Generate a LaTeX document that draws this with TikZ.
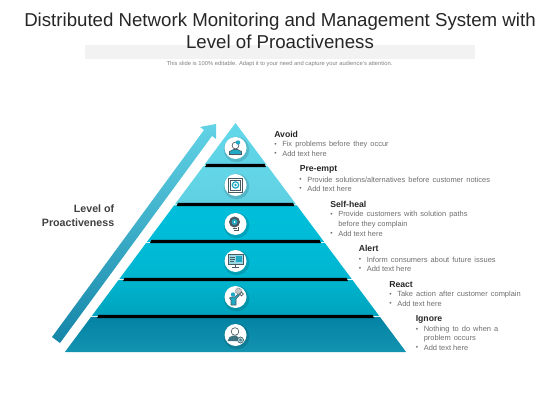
\documentclass[tikz,border=0pt]{standalone}
\usepackage{fontspec}
\setmainfont{Liberation Sans}
\usepackage{tikz}
\usetikzlibrary{positioning}
\definecolor{bodygrey}{HTML}{6E6E6E}
\definecolor{icondark}{HTML}{4A5A63}
\definecolor{iconteal}{HTML}{1FA9C4}
\definecolor{arrowlight}{HTML}{62D3E6}
\definecolor{arrowdark}{HTML}{1585A8}
\newcommand{\widewords}[1]{{\spaceskip=2.3pt\relax #1}}
\tikzset{
  headtext/.style={anchor=west,inner sep=0pt,font=\bfseries\fontsize{6.5}{8}\selectfont,text=black!85},
  itemtext/.style={anchor=west,inner sep=0pt,font=\fontsize{5.6}{7}\selectfont,text=bodygrey},
  itemdot/.style={anchor=center,inner sep=0pt,font=\fontsize{5}{6}\selectfont,text=bodygrey},
  iconcircle/.style={circle,fill=white,inner sep=0pt,minimum size=16.5pt},
  iconline/.style={draw=icondark,line width=0.5pt},
  iconfill/.style={fill=iconteal,draw=icondark,line width=0.4pt},
}
\begin{document}
\begin{tikzpicture}[x=0.75pt,y=-0.75pt]
  \useasboundingbox (0,0) rectangle (560,420);
  % Title
  \fill[black!5] (85,45) rectangle (475,59.5);
  \node[font=\fontsize{14}{16.5}\selectfont,align=center,text=black!85] (title) at (280,31) {Distributed Network Monitoring and Management System with\\Level of Proactiveness};
  \node[font=\fontsize{4.35}{5}\selectfont,text=black!50] (subtitle) at (279.5,64) {This slide is 100\% editable. Adapt it to your need and capture your audience's attention.};
  % Arrow
  \coordinate (tailA) at (52,337);
  \coordinate (tailB) at (60,343);
  \coordinate (neckA) at (204,130);
  \coordinate (neckB) at (212,136);
  \coordinate (barbA) at (200,127);
  \coordinate (barbB) at (216,139);
  \coordinate (tip) at (216,124);
  \shade[top color=arrowlight,bottom color=arrowdark]
    (tailA)--(neckA)--(barbA)--(tip)--(barbB)--(neckB)--(tailB)--cycle;
  % Bands
  \foreach \bandname/\ytop/\ybot/\colA/\colB in {
      six/317/352/0482A4/1394B0,
      five/280/316/00B4CE/00A3BD,
      four/243/279/00BCD7/00B5D0,
      three/205.5/242/00BEDA/00BBD6,
      two/166/204.5/63D6E8/5FD0E2,
      one/123/165/63D8EA/5FD3E6}{
    \pgfmathsetmacro{\hwtop}{0.745*(\ytop-123)}
    \pgfmathsetmacro{\hwbot}{0.745*(\ybot-123)}
    \definecolor{bandtop}{HTML}{\colA}
    \definecolor{bandbot}{HTML}{\colB}
    \shade[top color=bandtop,bottom color=bandbot]
      ({235.5-\hwtop},\ytop)--({235.5+\hwtop},\ytop)--({235.5+\hwbot},\ybot)--({235.5-\hwbot},\ybot)--cycle;
  }
  % Black bars
  \foreach \ybar/\hwbar in {316.5/137,279.5/111,241.5/84,204.5/57.5,165.5/29}{
    \fill[black] ({235.5-\hwbar},\ybar-1.6)--({235.5+\hwbar},\ybar-1.6)--({235.5+\hwbar+1.5},\ybar+1.6)--({235.5-\hwbar-1.5},\ybar+1.6)--cycle;
  }
  % Icon circles
  \foreach \iconname/\ycirc in {avoidicon/148,preempticon/185,healicon/224,alerticon/261,reacticon/297,ignoreicon/335}{
    \fill[black,opacity=0.13] (236.5,\ycirc+1.5) circle (12.8);
    \node[iconcircle] (\iconname) at (235.5,\ycirc) {};
  }
  % Avoid icon
  \begin{scope}[shift={(avoidicon)}]
    \draw[iconline] (0,-2.5) circle (3.4);
    \fill[iconteal] (2.5,-5.5) circle (2.2);
    \draw[iconfill] (-6,6.5)--(-6,3.5)--(-2,1.5)--(2,1.5)--(6,3.5)--(6,6.5)--cycle;
  \end{scope}
  % Pre-empt icon
  \begin{scope}[shift={(preempticon)}]
    \draw[iconline] (-7,-7) rectangle (7,7);
    \draw[iconline] (-5,-5) rectangle (5,5);
    \draw[draw=iconteal,line width=0.9pt] (0,0) circle (3.2);
    \fill[iconteal] (0,0) circle (1.4);
  \end{scope}
  % Self-heal icon
  \begin{scope}[shift={(healicon)}]
    \fill[icondark] (-1,-2) circle (5.5);
    \fill[iconteal] (-1,-2) circle (3);
    \fill[white] (-1,-2) circle (1);
    \draw[iconline] (-3,4)--(1,4) (-2,6.5)--(3,6.5)--(3,3.5);
  \end{scope}
  % Alert icon
  \begin{scope}[shift={(alerticon)}]
    \draw[iconline,fill=iconteal!45] (-7.5,-6.5) rectangle (7.5,3.5);
    \fill[iconteal] (0.5,-5) rectangle (6,1);
    \draw[iconline] (-5.5,-4)--(-1,-4) (-5.5,-2)--(-1,-2) (-5.5,0)--(-2,0);
    \draw[iconline] (0,3.5)--(0,6.5) (-3.5,6.5)--(3.5,6.5);
  \end{scope}
  % React icon
  \begin{scope}[shift={(reacticon)}]
    \fill[iconteal] (-2.5,-2.5) circle (2.2);
    \draw[iconfill] (-6,1)--(-4,0)--(-1,0)--(3,-3)--(4,-2)--(0.5,2)--(0.5,8)--(-4.5,8)--(-4.5,3)--cycle;
    \draw[iconline,fill=icondark!35,densely dotted] (3,-6) circle (3.3);
    \draw[iconline] (6,-3) circle (1.8);
  \end{scope}
  % Ignore icon
  \begin{scope}[shift={(ignoreicon)}]
    \draw[iconline] (-0.5,-3.5) circle (3.8);
    \fill[icondark!70!iconteal] (-8,6)--(-6,2)--(-2,0.5)--(1,0.5)--(3,3)--(2,6)--cycle;
    \draw[iconline,fill=iconteal!40] (5,5) circle (3);
    \draw[iconline] (5,5) circle (1);
  \end{scope}
  % Left label
  \node[font=\bfseries\fontsize{8}{10.5}\selectfont,align=right,anchor=east,text=black!75,inner sep=0pt] (levellabel) at (114.5,216) {Level of\\Proactiveness};
  % Headings
  \node[headtext] (avoidhead) at (274,134) {Avoid};
  \node[headtext] (preempthead) at (299.5,169) {Pre-empt};
  \node[headtext] (healhead) at (330,204) {Self-heal};
  \node[headtext] (alerthead) at (358.5,248.5) {Alert};
  \node[headtext] (reacthead) at (389,284.5) {React};
  \node[headtext] (ignorehead) at (415.5,319.5) {Ignore};
  % Items
  \foreach \itemx/\itemy/\itemlabel [count=\itemnum] in {
      282/144.5/{\widewords{Fix problems before they occur}},
      282/153.5/{Add text here},
      307/179.5/{\widewords{Provide solutions/alternatives before customer notices}},
      307/188.5/{Add text here},
      338/215/{\widewords{Provide customers with solution paths}},
      338/233.5/{Add text here},
      366.5/260/{\widewords{Inform consumers about future issues}},
      366.5/269/{Add text here},
      397/295/{\widewords{Take action after customer complain}},
      397/304/{Add text here},
      423.5/329.5/{\widewords{Nothing to do when a}},
      423.5/348/{Add text here}}{
    \node[itemdot] (bullet\itemnum) at (\itemx-6.5,\itemy) {•};
    \node[itemtext] (item\itemnum) at (\itemx,\itemy) {\itemlabel};
  }
  \node[itemtext] (healwrap) at (338,224.5) {before they complain};
  \node[itemtext] (ignorewrap) at (423.5,339) {\widewords{problem occurs}};
\end{tikzpicture}
\end{document}
